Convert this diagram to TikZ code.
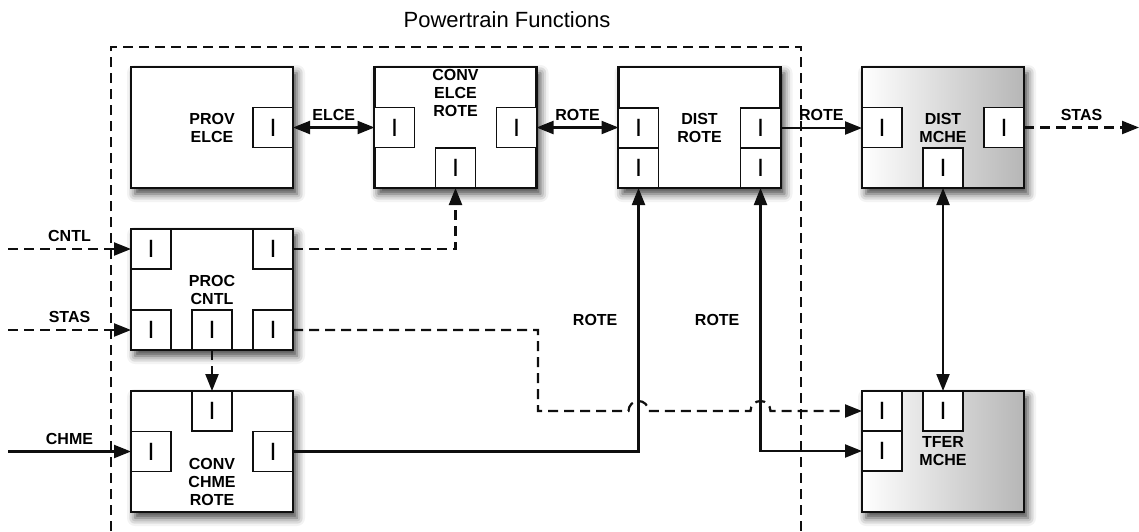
\documentclass[tikz,border=0pt]{standalone}
\usepackage{fontspec}
\setmainfont{Liberation Sans}
\usetikzlibrary{arrows.meta,positioning,calc,shadows.blur}
\definecolor{inkblack}{RGB}{15,15,15}
\definecolor{fadegray}{RGB}{182,182,182}
\tikzset{
  func/.style={draw=inkblack,line width=2.3pt,fill=white,minimum width=162pt,minimum height=121pt,inner sep=0pt,outer sep=0pt,align=center,font=\fontsize{16}{18}\selectfont\bfseries,blur shadow={shadow xshift=4pt,shadow yshift=-6pt,shadow blur radius=8pt,shadow opacity=75}},
  mech/.style={func,left color=white,right color=fadegray},
  port/.style={draw=inkblack,line width=1.8pt,fill=white,minimum size=40pt,inner sep=0pt,outer sep=0pt,font=\fontsize{25}{25}\selectfont},
  tag/.style={font=\fontsize{16}{18}\selectfont\bfseries,inner sep=2pt,align=center},
  flow/.style={-{Triangle[length=17pt,width=13pt]},draw=inkblack,line width=2.2pt},
  both/.style={{Triangle[length=17pt,width=13pt]}-{Triangle[length=17pt,width=13pt]},draw=inkblack,line width=2.2pt},
  sig/.style={flow,dash pattern=on 10pt off 6pt}
}

\begin{document}
\begin{tikzpicture}[x=1pt,y=-1pt]
  \useasboundingbox (0,0) rectangle (1139,531);

  % Powertrain frame
  \draw[draw=inkblack,line width=2.2pt,dash pattern=on 10pt off 6pt] (111,531) -- (111,47) -- (801,47) -- (801,531);
  \node[font=\fontsize{22}{26}\selectfont] (title) at (507,20) {Powertrain Functions};

  % Function boxes
  \node[func] (prov) at (212,127.5) {PROV\\ELCE};
  \node[func] (convelce) at (455.5,127.5) {};
  \node[func] (distrote) at (699.5,127.5) {DIST\\ROTE};
  \node[mech] (distmche) at (943,127.5) {DIST\\MCHE};
  \node[func] (proc) at (212,289.5) {PROC\\CNTL};
  \node[func] (convchme) at (212,451.5) {};
  \node[mech] (tfer) at (943,451.5) {TFER\\MCHE};
  \node[tag,anchor=north] (convelcetxt) at (convelce.north) {CONV\\ELCE\\ROTE};
  \node[tag,anchor=south] (convchmetxt) at ([yshift=4pt]convchme.south) {CONV\\CHME\\ROTE};

  % Interface ports
  \node[port,anchor=east] (provR) at (prov.east) {I};
  \node[port,anchor=west] (convelceL) at (convelce.west) {I};
  \node[port,anchor=east] (convelceR) at (convelce.east) {I};
  \node[port,anchor=south] (convelceB) at (convelce.south) {I};
  \node[port,anchor=south west] (distroteLB) at (distrote.south west) {I};
  \node[port,anchor=south west] (distroteLT) at (distroteLB.north west) {I};
  \node[port,anchor=south east] (distroteRB) at (distrote.south east) {I};
  \node[port,anchor=south east] (distroteRT) at (distroteRB.north east) {I};
  \node[port,anchor=west] (distmcheL) at (distmche.west) {I};
  \node[port,anchor=east] (distmcheR) at (distmche.east) {I};
  \node[port,anchor=south] (distmcheB) at (distmche.south) {I};
  \node[port,anchor=north west] (procTL) at (proc.north west) {I};
  \node[port,anchor=north east] (procTR) at (proc.north east) {I};
  \node[port,anchor=south west] (procBL) at (proc.south west) {I};
  \node[port,anchor=south] (procBM) at (proc.south) {I};
  \node[port,anchor=south east] (procBR) at (proc.south east) {I};
  \node[port,anchor=north] (convchmeT) at (convchme.north) {I};
  \node[port,anchor=west] (convchmeL) at (convchme.west) {I};
  \node[port,anchor=east] (convchmeR) at (convchme.east) {I};
  \node[port,anchor=north west] (tferLT) at (tfer.north west) {I};
  \node[port,anchor=north west] (tferLB) at (tferLT.south west) {I};
  \node[port,anchor=north] (tferT) at (tfer.north) {I};

  % Free ends and bends
  \coordinate (cntlin) at (8,249);
  \coordinate (stasin) at (8,330);
  \coordinate (chmein) at (8,451.5);
  \coordinate (stasout) at (1139,127.5);
  \coordinate (stasbend) at (538,0);
  \coordinate (hopA) at (distroteLB.south |- tferLT.west);
  \coordinate (hopB) at (distroteRB.south |- tferLT.west);

  % Flows
  \draw[both] (provR) -- node[tag,above=4pt]{ELCE} (convelceL);
  \draw[both] (convelceR.east) -- node[tag,above=4pt]{ROTE} (convelceR.east -| distroteLT.west);
  \draw[flow] (distroteRT.east) -- node[tag,above=4pt]{ROTE} (distroteRT.east -| distmcheL.west);
  \draw[sig] (distmcheR) -- node[tag,above=4pt]{STAS} (stasout);
  \draw[sig] (cntlin) -- node[tag,above=4pt]{CNTL} (procTL);
  \draw[sig] (stasin) -- node[tag,above=4pt]{STAS} (procBL);
  \draw[flow] (chmein) -- node[tag,above=4pt]{CHME} (convchmeL);
  \draw[sig] (procTR.east) -| (convelceB.south);
  \draw[sig] (procBM) -- (convchmeT);
  \draw[sig] (procBR.east) -- (procBR.east -| stasbend) -- (stasbend |- tferLT.west)
    -- ($(hopA)+(-10,0)$) arc[start angle=180,end angle=360,radius=10]
    -- ($(hopB)+(-10,0)$) arc[start angle=180,end angle=360,radius=10]
    -- (tferLT.west);
  \draw[flow] (convchmeR.east) -| node[tag,pos=0.75,left=18pt]{ROTE} (distroteLB.south);
  \draw[both] (distroteRB.south) |- node[tag,pos=0.25,left=18pt]{ROTE} (tferLB.west);
  \draw[both] (distmcheB.south) -- (tferT.north);
\end{tikzpicture}
\end{document}
